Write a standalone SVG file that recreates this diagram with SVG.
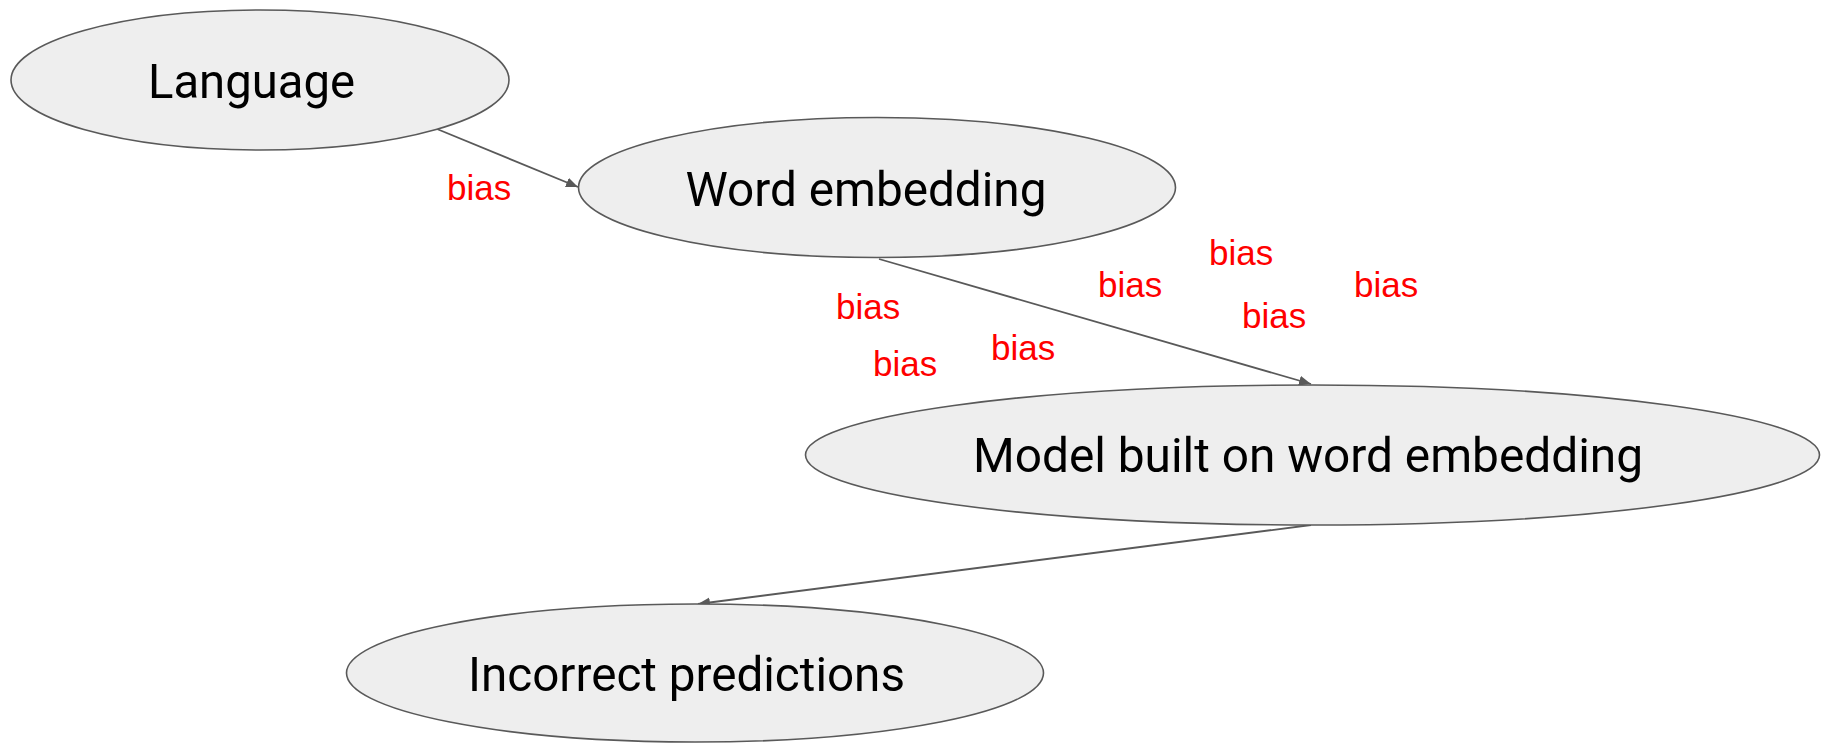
<svg xmlns="http://www.w3.org/2000/svg" width="1821" height="743" viewBox="0 0 1821 743">
<style>
.node{fill:#eeeeee;stroke:#595959;stroke-width:1.6}
.lbl{font-family:Roboto,"Liberation Sans",sans-serif;font-size:49px;fill:#000000;text-anchor:middle}
.bias{font-family:"Liberation Sans",Arial,sans-serif;font-size:35px;fill:#ff0000}
.edge{stroke:#595959;stroke-width:1.8;fill:none;marker-end:url(#arr)}
</style>
<defs>
<marker id="arr" markerUnits="userSpaceOnUse" markerWidth="14" markerHeight="12" refX="12" refY="5" orient="auto">
<path d="M0,0 L12,5 L0,10 z" fill="#595959"/>
</marker>
</defs>
<rect width="1821" height="743" fill="#ffffff"/>
<g id="connectors">
<line class="edge" x1="437" y1="129" x2="578" y2="187"/>
<line class="edge" x1="879" y1="259" x2="1311" y2="384"/>
<line class="edge" x1="1311" y1="525" x2="698" y2="604"/>
</g>
<g id="n-language">
<ellipse class="node" cx="260" cy="80" rx="249" ry="70"/>
<text class="lbl" x="251.5" y="98" textLength="207" lengthAdjust="spacingAndGlyphs">Language</text>
</g>
<g id="n-word">
<ellipse class="node" cx="877" cy="187.5" rx="298.5" ry="70"/>
<text class="lbl" x="866" y="206" textLength="361" lengthAdjust="spacingAndGlyphs">Word embedding</text>
</g>
<g id="n-model">
<ellipse class="node" cx="1312.5" cy="455" rx="507" ry="70"/>
<text class="lbl" x="1308" y="472" textLength="670" lengthAdjust="spacingAndGlyphs">Model built on word embedding</text>
</g>
<g id="n-incorrect">
<ellipse class="node" cx="695" cy="673" rx="348.5" ry="69"/>
<text class="lbl" x="686.5" y="691" textLength="437" lengthAdjust="spacingAndGlyphs">Incorrect predictions</text>
</g>
<g id="labels">
<text class="bias" x="447" y="200">bias</text>
<text class="bias" x="836" y="319">bias</text>
<text class="bias" x="873" y="376">bias</text>
<text class="bias" x="991" y="360">bias</text>
<text class="bias" x="1098" y="297">bias</text>
<text class="bias" x="1209" y="265">bias</text>
<text class="bias" x="1242" y="328">bias</text>
<text class="bias" x="1354" y="297">bias</text>
</g>
</svg>
